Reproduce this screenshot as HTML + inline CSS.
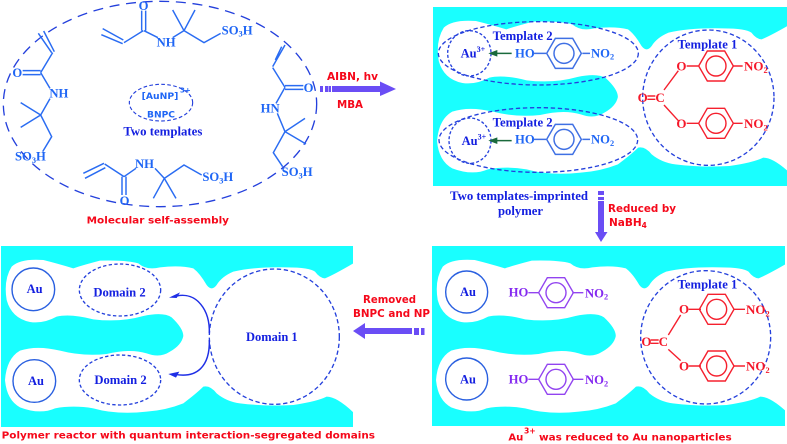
<!DOCTYPE html>
<html><head><meta charset="utf-8">
<style>
html,body{margin:0;padding:0;background:#fff;width:787px;height:444px;overflow:hidden}
svg{display:block}
.s{font-family:"Liberation Serif",serif;font-weight:bold}
.d{font-family:"DejaVu Sans",sans-serif;font-weight:bold}
.mol{font-size:38px;fill:#1f66f5}
.tpl{font-size:37.500px;fill:#1420e0}
.red{font-size:30px;fill:#f5081a}
.rm{font-size:39px;fill:#f5182a}
.pm{font-size:38px;fill:#8428f0}
.l{fill:none;stroke:#2a6cf2;stroke-width:4.400}
.dash{fill:none;stroke:#2440dc;stroke-width:4;stroke-dasharray:13 8}
</style></head><body>
<svg xmlns="http://www.w3.org/2000/svg" width="787" height="444" viewBox="0 0 787 444">
<defs>
<path id="p" fill="#fff" d="M1075,100 L1060,100 Q1000,135 975,145 Q960,145 945,125 Q930,112 860,112 Q760,110 700,125 Q665,140 650,165 Q635,185 620,165 Q600,130 580,115 Q540,105 480,112 Q440,122 415,100 Q380,90 300,92 Q250,105 220,115 Q170,100 130,90 Q60,85 35,110 Q10,150 20,210 Q35,265 90,276 Q130,282 170,260 Q210,250 280,268 Q360,278 430,258 Q490,245 515,262 Q550,295 550,318 Q545,345 510,365 Q480,385 440,370 Q390,355 320,372 Q250,380 180,362 Q110,345 60,362 Q20,385 15,450 Q20,510 60,532 Q120,555 165,535 Q220,525 280,535 Q350,555 440,545 Q500,540 550,520 Q590,490 610,470 Q630,465 650,490 Q680,515 720,520 Q800,530 880,525 Q950,515 980,500 Q1010,500 1060,547 L1075,547 Z"/>
<g id="ring"><polygon points="-52,0 -26,-45 26,-45 52,0 26,45 -26,45"/><circle r="30"/></g>
</defs>

<!-- Panel backgrounds -->
<rect x="433" y="7" width="354" height="179" fill="#19ffff"/>
<rect x="432" y="246" width="353" height="180" fill="#19ffff"/>
<rect x="1" y="246" width="352" height="181" fill="#19ffff"/>
<use href="#p" transform="translate(433,7) scale(.338,.3333) translate(-3,-48)"/>
<use href="#p" transform="translate(432,246) scale(.336,.3333) translate(-3,-48)"/>
<use href="#p" transform="translate(1,246) scale(.3333) translate(-3,-48)"/>

<!-- Panel A: self-assembly -->
<g transform="scale(.33333)">
<ellipse cx="480" cy="312" rx="470" ry="308" class="dash" style="stroke-dasharray:30 20"/>
<g class="l">
<path d="M308,86L370,120M304,104L368,131M372,128L430,92M425,92V32M437,92V32M432,92L474,113M518,113L552,92M552,92L518,30M552,92L585,30M552,92L612,128L662,100"/>
<path d="M115,100L155,158M131,93L163,155M158,158L122,218M68,212H122M68,224H122M122,218L150,265M150,296L122,345M122,345L62,308M122,345L62,382M122,345L155,410L128,455"/>
<path d="M855,135L818,200M845,140L826,180M818,203L855,262M855,257H910M855,268H910M855,262L828,310M832,340L855,395M855,395L915,355M855,395L918,432M855,395L820,458L848,500"/>
<path d="M250,520L312,490M255,535L316,503M314,492L372,530M366,530V585M378,530V585M372,530L408,505M465,505L493,535M493,535L460,595M493,535L528,595M493,535L552,495L605,525"/>
</g>
<g class="s mol">
<text x="416" y="30">O</text>
<text x="470" y="139">NH</text>
<text x="665" y="103">SO<tspan font-size="25" dy="7">3</tspan><tspan dy="-7">H</tspan></text>
<text x="37" y="231">O</text>
<text x="148" y="292">NH</text>
<text x="45" y="482">SO<tspan font-size="25" dy="7">3</tspan><tspan dy="-7">H</tspan></text>
<text x="911" y="276">O</text>
<text x="782" y="337">HN</text>
<text x="845" y="528">SO<tspan font-size="25" dy="7">3</tspan><tspan dy="-7">H</tspan></text>
<text x="405" y="504">NH</text>
<text x="359" y="615">O</text>
<text x="607" y="543">SO<tspan font-size="25" dy="7">3</tspan><tspan dy="-7">H</tspan></text>
</g>
<ellipse cx="483" cy="308" rx="95" ry="55" class="dash" style="stroke-width:3.400;stroke-dasharray:11 7"/>
<g class="d" fill="#1f66f5" font-size="27">
<text x="425" y="297" textLength="110" lengthAdjust="spacingAndGlyphs">[AuNP]</text>
<text x="540" y="278" font-size="21">3+</text>
<text x="441" y="352" textLength="84" lengthAdjust="spacingAndGlyphs">BNPC</text>
</g>
<text x="370" y="407" class="s tpl" textLength="237" lengthAdjust="spacingAndGlyphs">Two templates</text>
<text x="260" y="670" class="d red" textLength="427" lengthAdjust="spacingAndGlyphs">Molecular self-assembly</text>
</g>

<!-- Arrows -->
<g fill="#6a4df5">
<path d="M320,86h3v6h-3zM325,86h3v6h-3zM328.500,86h2.500v6h-2.500z"/>
<path d="M332,86H380V81.500L396,89L380,96V92H332Z"/>
<path d="M353,331L365,323V328H412V334H365V339Z"/>
<path d="M414,328h5v7h-5zM421,328h3.500v7h-3.500z"/>
<path d="M598,191h6v4h-6zM598,197h6v3h-6z"/>
<path d="M598,201h6V232h3.500L601,242L595,232h3Z"/>
</g>
<g class="d" fill="#f5081a" font-size="10.500">
<text x="327" y="80" textLength="51" lengthAdjust="spacingAndGlyphs">AIBN, hv</text>
<text x="337" y="108" textLength="26" lengthAdjust="spacingAndGlyphs">MBA</text>
<text x="363" y="303" textLength="53" lengthAdjust="spacingAndGlyphs">Removed</text>
<text x="353" y="317" textLength="77" lengthAdjust="spacingAndGlyphs">BNPC and NP</text>
<text x="608" y="212" textLength="68" lengthAdjust="spacingAndGlyphs">Reduced by</text>
<text x="609" y="226">NaBH<tspan font-size="7.500" dy="2">4</tspan></text>
</g>
<g class="s" fill="#1420e0" font-size="12.500">
<text x="450" y="200" textLength="138" lengthAdjust="spacingAndGlyphs">Two templates-imprinted</text>
<text x="498" y="215" textLength="45" lengthAdjust="spacingAndGlyphs">polymer</text>
</g>

<!-- Panel 1 content -->
<g transform="translate(420,0) scale(.33333)">
<ellipse cx="355" cy="160" rx="300" ry="95" class="dash"/>
<ellipse cx="148" cy="160" rx="65" ry="68" class="dash" style="stroke-dasharray:9 6"/>
<ellipse cx="355" cy="420" rx="298" ry="97" class="dash"/>
<ellipse cx="150" cy="422" rx="63" ry="68" class="dash" style="stroke-dasharray:9 6"/>
<ellipse cx="865" cy="293" rx="197" ry="203" class="dash"/>
<g class="s tpl">
<text x="218" y="120" textLength="180" lengthAdjust="spacingAndGlyphs">Template 2</text>
<text x="218" y="380" textLength="180" lengthAdjust="spacingAndGlyphs">Template 2</text>
<text x="773" y="145" textLength="179" lengthAdjust="spacingAndGlyphs">Template 1</text>
<text x="122" y="172">Au<tspan font-size="24" dy="-16">3+</tspan></text>
<text x="125" y="435">Au<tspan font-size="24" dy="-16">3+</tspan></text>
</g>
<g fill="#1a6a3c" stroke="#1a6a3c">
<path d="M275,160H225" stroke-width="4.400" fill="none"/><path d="M205,160L232,150V170Z" stroke="none"/>
<path d="M275,422H225" stroke-width="4.400" fill="none"/><path d="M205,422L232,412V432Z" stroke="none"/>
</g>
<g class="s mol">
<text x="285" y="172">HO</text><text x="513" y="172">NO<tspan font-size="25" dy="7">2</tspan></text>
<text x="285" y="431">HO</text><text x="513" y="431">NO<tspan font-size="25" dy="7">2</tspan></text>
</g>
<g class="l" style="stroke:#3f70e4">
<path d="M340,160H378M487,160H510M340,418H378M487,418H510"/>
<use href="#ring" transform="translate(432,160)"/>
<use href="#ring" transform="translate(432,418)"/>
</g>
<g fill="none" stroke="#f5202e" stroke-width="4.200">
<path d="M682,288H706M682,298H706M732,270L775,212M732,315L775,362M800,198H835M940,198H968M800,370H835M940,370H968"/>
<use href="#ring" transform="translate(888,198)"/>
<use href="#ring" transform="translate(888,370)"/>
</g>
<g class="s rm">
<text x="653" y="306">O</text><text x="706" y="306">C</text>
<text x="769" y="211">O</text><text x="769" y="384">O</text>
<text x="972" y="212">NO<tspan font-size="25" dy="7">2</tspan></text>
<text x="972" y="384">NO<tspan font-size="25" dy="7">2</tspan></text>
</g>
</g>

<!-- Panel 3 content -->
<g transform="translate(420,220) scale(.33333)">
<circle cx="140" cy="216" r="63" fill="none" stroke="#2a60e0" stroke-width="4.200"/>
<circle cx="140" cy="477" r="63" fill="none" stroke="#2a60e0" stroke-width="4.200"/>
<g class="s tpl"><text x="120" y="228">Au</text><text x="120" y="490">Au</text>
<text x="773" y="205" textLength="179" lengthAdjust="spacingAndGlyphs">Template 1</text></g>
<g class="s pm">
<text x="266" y="229">HO</text><text x="495" y="232">NO<tspan font-size="25" dy="7">2</tspan></text>
<text x="266" y="490">HO</text><text x="495" y="492">NO<tspan font-size="25" dy="7">2</tspan></text>
</g>
<g fill="none" stroke="#9244f0" stroke-width="4.200">
<path d="M325,218H358M457,218H490M325,478H358M457,478H490"/>
<use href="#ring" transform="translate(408,218)"/>
<use href="#ring" transform="translate(408,478)"/>
</g>
<ellipse cx="857" cy="352" rx="195" ry="200" class="dash"/>
<g fill="none" stroke="#f5202e" stroke-width="4.200">
<path d="M692,360H716M692,370H716M745,345L782,285M745,388L782,422M806,268H843M942,268H975M806,438H843M942,438H975"/>
<use href="#ring" transform="translate(890,268)"/>
<use href="#ring" transform="translate(890,438)"/>
</g>
<g class="s rm">
<text x="664" y="378">O</text><text x="716" y="378">C</text>
<text x="777" y="281">O</text><text x="777" y="451">O</text>
<text x="978" y="282">NO<tspan font-size="25" dy="7">2</tspan></text>
<text x="978" y="452">NO<tspan font-size="25" dy="7">2</tspan></text>
</g>
<g class="d red">
<text x="265" y="661" textLength="45" lengthAdjust="spacingAndGlyphs">Au</text>
<text x="312" y="641" font-size="23">3+</text>
<text x="357" y="661" textLength="578" lengthAdjust="spacingAndGlyphs">was reduced to Au nanoparticles</text>
</g>
</g>

<!-- Panel 4 content -->
<g transform="translate(0,230) scale(.33333)">
<circle cx="100" cy="178" r="64" fill="none" stroke="#2a60e0" stroke-width="4.200"/>
<circle cx="103" cy="453" r="64" fill="none" stroke="#2a60e0" stroke-width="4.200"/>
<ellipse cx="360" cy="180" rx="122" ry="78" class="dash" style="stroke-dasharray:10 7"/>
<ellipse cx="360" cy="450" rx="122" ry="75" class="dash" style="stroke-dasharray:10 7"/>
<ellipse cx="823" cy="320" rx="195" ry="203" class="dash"/>
<g class="s tpl">
<text x="80" y="189">Au</text><text x="84" y="465">Au</text>
<text x="280" y="200" textLength="157" lengthAdjust="spacingAndGlyphs">Domain 2</text>
<text x="283" y="462" textLength="157" lengthAdjust="spacingAndGlyphs">Domain 2</text>
<text x="738" y="333" textLength="155" lengthAdjust="spacingAndGlyphs">Domain 1</text>
</g>
<g fill="none" stroke="#1f2fe6" stroke-width="4.400">
<path d="M628,310C630,240 590,185 530,198"/>
<path d="M628,330C630,410 590,445 525,433"/>
</g>
<g fill="#1f2fe6">
<path d="M507,203L540,187L530,204Z"/>
<path d="M505,432L538,425L528,443Z"/>
</g>
<text x="5" y="625" class="d red" textLength="1120" lengthAdjust="spacingAndGlyphs">Polymer reactor with quantum interaction-segregated domains</text>
</g>
</svg>
</body></html>
